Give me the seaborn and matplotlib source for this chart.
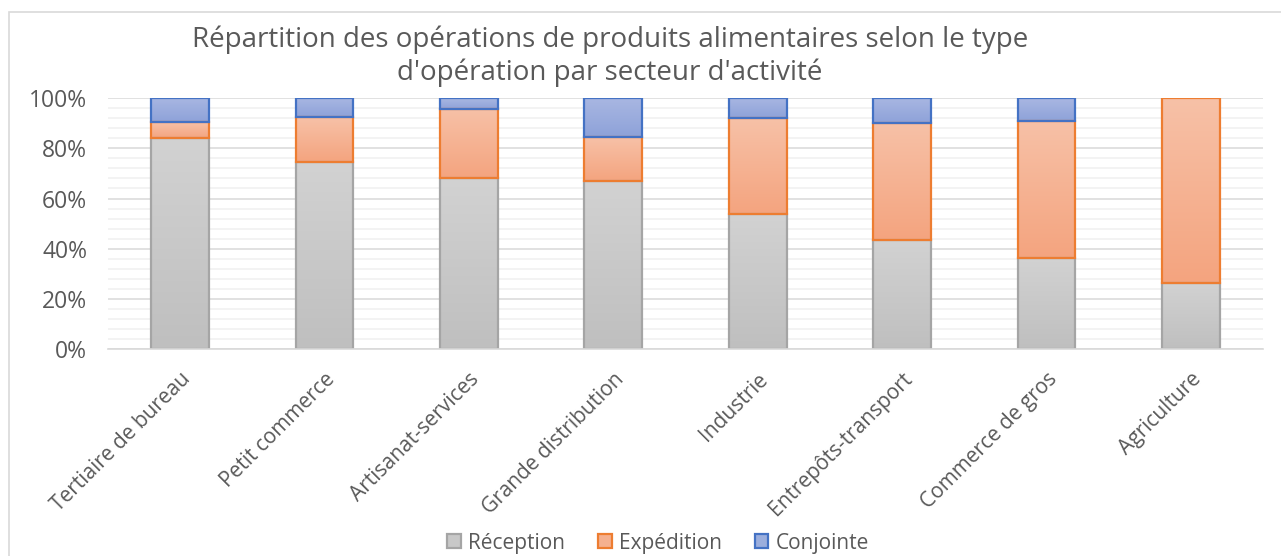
import matplotlib
matplotlib.use("Agg")
import matplotlib.pyplot as plt
from matplotlib.patches import Rectangle, Patch
from matplotlib.colors import to_rgb
from matplotlib.ticker import MultipleLocator, PercentFormatter
import seaborn as sns
import pandas as pd
import numpy as np

categories = ["Tertiaire de bureau", "Petit commerce", "Artisanat-services",
              "Grande distribution", "Industrie", "Entrepôts-transport",
              "Commerce de gros", "Agriculture"]
reception = [84.0, 74.7, 68.1, 67.1, 54.0, 43.3, 36.3, 26.5]
expedition = [6.3, 17.6, 27.6, 17.2, 38.0, 46.6, 54.7, 73.5]
conjointe = [9.7, 7.7, 4.3, 15.7, 8.0, 10.1, 9.0, 0.0]
series_names = ["Réception", "Expédition", "Conjointe"]
title = "Répartition des opérations de produits alimentaires selon le type\nd'opération par secteur d'activité"

sns.set_theme(style="white")
plt.rcParams["font.family"] = ["Open Sans", "DejaVu Sans"]
TXT = "#595959"

fills = {"Réception": "#c8c8c8", "Expédition": "#f5b08f", "Conjointe": "#9baedd"}
grad = {"Réception": ("#d2d2d2", "#bfbfbf"),
        "Expédition": ("#f7c1a7", "#f4a47f"),
        "Conjointe": ("#a9b7e2", "#8ea2d9")}
edges = {"Réception": "#a5a5a5", "Expédition": "#ed7d31", "Conjointe": "#4472c4"}

df = pd.DataFrame({"secteur": categories, "Réception": reception,
                   "Expédition": expedition, "Conjointe": conjointe})
bottoms = {"Réception": np.zeros(len(categories)),
           "Expédition": df["Réception"].to_numpy(),
           "Conjointe": (df["Réception"] + df["Expédition"]).to_numpy()}

fig = plt.figure(figsize=(12.81, 5.56), dpi=100)
ax = fig.add_axes([108/1281, 1 - 349.3/556, (1263-108)/1281, (349.3-98)/556])

seg_patches = []
for name in series_names:
    sns.barplot(data=df, x="secteur", y=name, ax=ax, color=fills[name],
                edgecolor=edges[name], linewidth=1.6, width=0.40,
                saturation=1, order=categories)
    cont = ax.containers[-1]
    for p, b in zip(cont.patches, bottoms[name]):
        p.set_y(b)
        if p.get_height() <= 0:
            p.set_visible(False)
        else:
            seg_patches.append((p, name))

# vertical gradient fill for each segment
N = 64
for p, name in seg_patches:
    top_c, bot_c = np.array(to_rgb(grad[name][0])), np.array(to_rgb(grad[name][1]))
    t = np.linspace(0, 1, N)[:, None, None]
    img = bot_c[None, None, :] * (1 - t) + top_c[None, None, :] * t
    x0, y0 = p.get_x(), p.get_y()
    im = ax.imshow(img, extent=[x0, x0 + p.get_width(), y0, y0 + p.get_height()],
                   origin="lower", aspect="auto", interpolation="bilinear", zorder=0.95)
    im.set_clip_path(p)
    p.set_facecolor("none")
    p.set_zorder(1.2 + series_names.index(name) * 0.1)

ax.set_ylim(0, 100)
ax.set_xlim(-0.5, len(categories) - 0.5)
ax.yaxis.set_major_locator(MultipleLocator(20))
ax.yaxis.set_minor_locator(MultipleLocator(4))
ax.yaxis.set_major_formatter(PercentFormatter(decimals=0))
ax.grid(which="major", axis="y", color="#d9d9d9", linewidth=1.1, zorder=0)
ax.grid(which="minor", axis="y", color="#f0f0f0", linewidth=1.1, zorder=0)
ax.set_axisbelow(True)
for s in ["top", "right", "left"]:
    ax.spines[s].set_visible(False)
ax.spines["bottom"].set_color("#d9d9d9")
ax.spines["bottom"].set_linewidth(1.2)
ax.tick_params(axis="y", which="both", length=0, colors=TXT, labelsize=16.5, pad=15)
ax.tick_params(axis="x", which="both", length=0, colors=TXT, labelsize=15, pad=14)
ax.set_xlabel("")
ax.set_ylabel("")
for lab in ax.get_xticklabels():
    lab.set_rotation(45)
    lab.set_ha("right")
    lab.set_rotation_mode("anchor")

fig.text(0.476, 1 - 56/556, title, ha="center", va="center", fontsize=20,
         color=TXT, linespacing=1.2)

handles = [Patch(facecolor=fills[n], edgecolor=edges[n], linewidth=1.6) for n in series_names]
fig.legend(handles, series_names, loc="center", bbox_to_anchor=(658/1281, 1 - 543/556),
           ncol=3, frameon=False, fontsize=15, labelcolor=TXT,
           handlelength=0.65, handleheight=0.65, handletextpad=0.33, columnspacing=1.6)

fig.patches.append(Rectangle((9/1281, -0.1), 1.2, 1 - 12/556 + 0.1,
                             transform=fig.transFigure, fill=False,
                             edgecolor="#d9d9d9", linewidth=1.2))

fig.savefig("out.png", dpi=100, facecolor="white")
